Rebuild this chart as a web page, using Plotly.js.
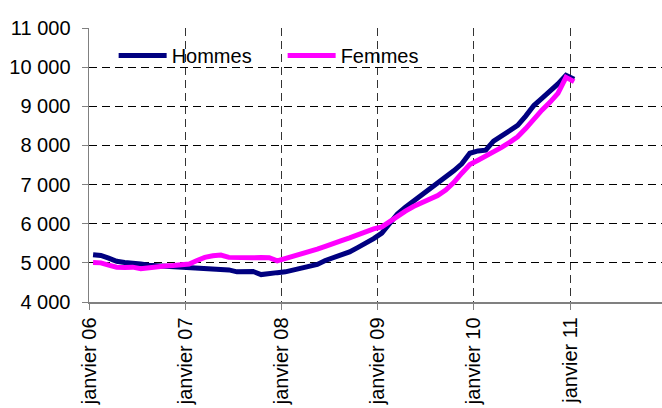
<!DOCTYPE html>
<html>
<head>
<meta charset="utf-8">
<script src="https://cdn.plot.ly/plotly-3.0.1.min.js"></script>
<style>
  html, body { margin: 0; padding: 0; background: #fff; }
  #chart { width: 662px; height: 408px; }
</style>
</head>
<body>
<div id="chart"></div>
<script>
const months = [
  "2006-01","2006-02","2006-03","2006-04","2006-05","2006-06","2006-07","2006-08","2006-09","2006-10","2006-11","2006-12",
  "2007-01","2007-02","2007-03","2007-04","2007-05","2007-06","2007-07","2007-08","2007-09","2007-10","2007-11","2007-12",
  "2008-01","2008-02","2008-03","2008-04","2008-05","2008-06","2008-07","2008-08","2008-09","2008-10","2008-11","2008-12",
  "2009-01","2009-02","2009-03","2009-04","2009-05","2009-06","2009-07","2009-08","2009-09","2009-10","2009-11","2009-12",
  "2010-01","2010-02","2010-03","2010-04","2010-05","2010-06","2010-07","2010-08","2010-09","2010-10","2010-11","2010-12",
  "2011-01"
];
const hommes = [
  5210, 5190, 5120, 5040, 5010, 5000, 4970, 4940, 4930, 4920, 4900, 4890,
  4880, 4860, 4850, 4850, 4840, 4820, 4770, 4790, 4780, 4700, 4740, 4750,
  4770, 4810, 4850, 4900, 4960, 5060, 5130, 5180, 5280, 5390, 5500, 5620,
  5760, 6000, 6250, 6420, 6570, 6720, 6870, 7020, 7180, 7350, 7530, 7800,
  7860, 7880, 8110, 8240, 8370, 8510, 8750, 9020, 9200, 9380, 9570, 9790,
  9690
];
const femmes = [
  5010, 5000, 4940, 4890, 4880, 4890, 4850, 4880, 4900, 4920, 4930, 4940,
  4970, 5060, 5140, 5180, 5200, 5140, 5130, 5120, 5130, 5140, 5130, 5050,
  5110, 5150, 5210, 5280, 5350, 5420, 5480, 5570, 5640, 5720, 5790, 5870,
  5920, 6060, 6210, 6320, 6440, 6540, 6620, 6720, 6860, 7050, 7290, 7510,
  7620, 7720, 7830, 7950, 8080, 8220, 8430, 8690, 8900, 9100, 9330, 9740,
  9630
];
const seriesNames = ["Hommes", "Femmes"];
const yTickVals = [4000, 5000, 6000, 7000, 8000, 9000, 10000, 11000];
const yTickText = ["4 000", "5 000", "6 000", "7 000", "8 000", "9 000", "10 000", "11 000"];
const xTickVals = ["2006-01-01", "2007-01-01", "2008-01-01", "2009-01-01", "2010-01-01", "2011-01-01"];
const xTickText = ["janvier 06", "janvier 07", "janvier 08", "janvier 09", "janvier 10", "janvier 11"];

const FONT = "Liberation Sans, Arial, sans-serif";

const traces = [
  {
    x: months, y: hommes, name: seriesNames[0], type: "scatter", mode: "lines",
    xperiod: "M1", xperiodalignment: "middle",
    line: { color: "#000080", width: 5, shape: "linear" }
  },
  {
    x: months, y: femmes, name: seriesNames[1], type: "scatter", mode: "lines",
    xperiod: "M1", xperiodalignment: "middle",
    line: { color: "#FF00FF", width: 5, shape: "linear" }
  }
];

const layout = {
  width: 662, height: 408,
  margin: { l: 89, r: 0, t: 28, b: 106, pad: 0 },
  paper_bgcolor: "#ffffff", plot_bgcolor: "#ffffff",
  font: { family: FONT, size: 20, color: "#000" },
  showlegend: true,
  legend: {
    orientation: "h", x: 0.043, xanchor: "left", y: 0.9, yanchor: "middle",
    bgcolor: "rgba(0,0,0,0)", font: { family: FONT, size: 20, color: "#000" },
    itemwidth: 48, entrywidth: 106, traceorder: "normal"
  },
  xaxis: {
    type: "date", range: ["2006-01-01", "2011-12-16"],
    tickmode: "array", tickvals: xTickVals, ticktext: xTickText,
    tickangle: -90, ticks: "outside", ticklen: 6, tickcolor: "#808080", tickwidth: 1,
    showline: true, linecolor: "#808080", linewidth: 1.5,
    showgrid: true, gridcolor: "#333333", gridwidth: 1, griddash: "8px,5px",
    zeroline: false, automargin: false,
    tickfont: { family: FONT, size: 20, color: "#000" }
  },
  yaxis: {
    range: [4000, 11000],
    tickmode: "array", tickvals: yTickVals, ticktext: yTickText,
    ticks: "outside", ticklen: 6, tickcolor: "#808080", tickwidth: 1,
    ticklabelstandoff: 7,
    showline: true, linecolor: "#808080", linewidth: 1.5,
    showgrid: true, gridcolor: "#000000", gridwidth: 1, griddash: "8px,5px",
    zeroline: false, automargin: false,
    tickfont: { family: FONT, size: 20, color: "#000" }
  },
  shapes: [
    {
      type: "rect", xref: "paper", yref: "paper", layer: "between",
      x0: 0.0105, x1: 0.618, y0: 0.828, y1: 0.982,
      fillcolor: "#ffffff", line: { width: 0 }
    }
  ]
};

Plotly.newPlot("chart", traces, layout, { staticPlot: true, displayModeBar: false });
</script>
</body>
</html>
